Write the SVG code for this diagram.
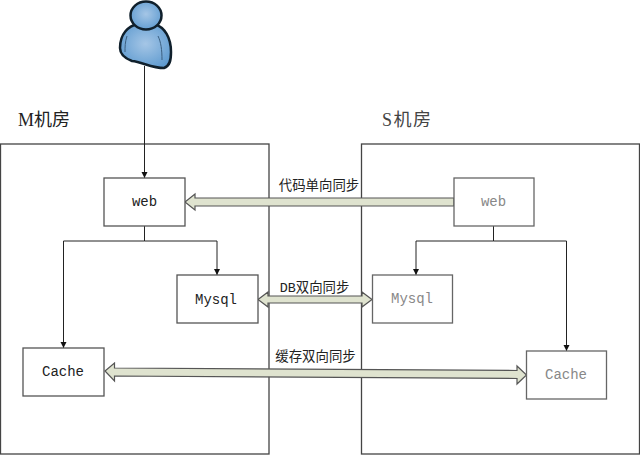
<svg xmlns="http://www.w3.org/2000/svg" width="640" height="455" viewBox="0 0 640 455">
<style>
.box{fill:#fff;stroke:#555;stroke-width:1.3}
.room{fill:none;stroke:#444;stroke-width:1.3}
.sbox{fill:#fff;stroke:#666;stroke-width:1.3}
.t{font-family:"Liberation Mono","Noto Sans CJK SC",monospace;font-size:14px;fill:#222;text-anchor:middle}
.g{fill:#888}
.cap{font-family:"Liberation Serif","Noto Sans CJK SC",serif;font-size:18px;fill:#222}
.lab{font-family:"Liberation Mono","Noto Sans CJK SC",monospace;font-size:13.400px;fill:#222;text-anchor:middle}
.line{fill:none;stroke:#222;stroke-width:1}
.band{fill:#dfe3cf;stroke:#555;stroke-width:1.200}
</style>
<defs>
<marker id="ah" markerWidth="7" markerHeight="7" refX="6" refY="3" orient="auto" markerUnits="userSpaceOnUse"><path d="M0,0L6,3L0,6Z" fill="#111"/></marker>
<radialGradient id="bl" cx="50%" cy="45%" r="60%"><stop offset="0" stop-color="#a5c6e6"/><stop offset="1" stop-color="#5f9bd0"/></radialGradient>
</defs>
<g id="room-m"><rect class="room" x="0.500" y="144" width="268.500" height="310"/><text class="cap" x="18" y="126">M机房</text></g>
<g id="room-s"><rect class="room" x="361.500" y="144" width="278" height="310"/><text class="cap" x="382" y="126" style="fill:#444" letter-spacing="1.500">S机房</text></g>
<g id="connectors">
<path class="line" marker-end="url(#ah)" d="M144.500 66V178"/>
<path class="line" marker-end="url(#ah)" d="M144.500 226V241H217V275"/>
<path class="line" marker-end="url(#ah)" d="M144.500 241H63.500V348"/>
<path class="line" marker-end="url(#ah)" d="M493.500 226V241H416V275"/>
<path class="line" marker-end="url(#ah)" d="M493.500 241H566.500V351"/>
<path class="band" d="M185 202L195 194V198H454V206H195V210Z"/>
<path class="band" d="M258 299.500L268 292V296H362V292L372 299.500L362 307V303H268V307Z"/>
<path class="band" d="M105 371L114.500 363V368L517 370.500V366L526.500 375L517 384V378.500L114.500 376V381Z"/>
<text class="lab" x="319" y="190">代码单向同步</text>
<text class="lab" x="314.500" y="292">DB双向同步</text>
<text class="lab" x="315.500" y="361">缓存双向同步</text>
</g>
<g id="user">
<path d="M120 48C120 34 128 26 138 24L154 24C165 27 171 38 171 52C171 60 170 66 164 68C152 68 142 62 132 61C124 58 120 54 120 48Z" fill="url(#bl)" stroke="#10202c" stroke-width="2.500"/>
<ellipse cx="146" cy="15.500" ry="14" rx="15.500" fill="url(#bl)" stroke="#10202c" stroke-width="2.500"/>
<path d="M127 36C125 42 125 47 125 52M158 36C161 42 162 50 162 60" fill="none" stroke="#3b5f80" stroke-width="1"/>
</g>
<g id="web-m"><rect class="box" x="104" y="178" width="81" height="48"/><text class="t" x="144.500" y="206">web</text></g>
<g id="mysql-m"><rect class="box" x="177" y="275" width="81" height="48"/><text class="t" x="216" y="304">Mysql</text></g>
<g id="cache-m"><rect class="box" x="23" y="348" width="81" height="48"/><text class="t" x="63" y="376">Cache</text></g>
<g id="web-s"><rect class="sbox" x="454" y="178" width="80" height="48"/><text class="t g" x="493.500" y="206">web</text></g>
<g id="mysql-s"><rect class="sbox" x="372.500" y="275" width="80" height="48"/><text class="t g" x="412" y="303">Mysql</text></g>
<g id="cache-s"><rect class="sbox" x="526.500" y="351" width="80" height="48"/><text class="t g" x="566" y="379">Cache</text></g>
</svg>
